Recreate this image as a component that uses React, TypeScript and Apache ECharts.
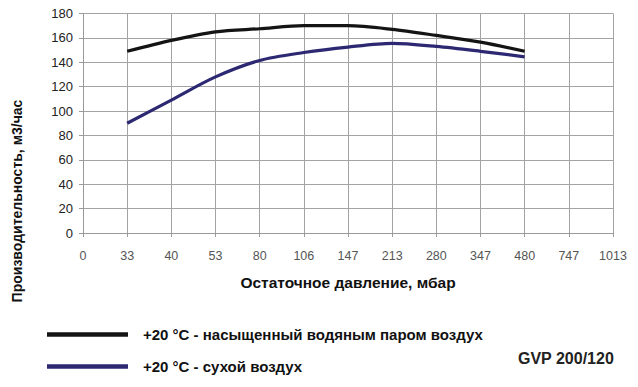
import React, { useEffect, useRef } from "react";
import * as echarts from "echarts";

const categories = ["0", "33", "40", "53", "80", "106", "147", "213", "280", "347", "480", "747", "1013"];
const saturatedAir = [null, 149, 158, 165, 167.5, 170, 170, 167, 162, 156.5, 149, null, null];
const dryAir = [null, 90, 109, 128, 141.5, 148, 152.5, 155.5, 153, 149, 144.5, null, null];
const yTicks = { min: 0, max: 180, interval: 20 };
const seriesNames = ["+20 °C - насыщенный водяным паром воздух", "+20 °C - сухой воздух"];

const FONT = "'Liberation Sans', Arial, sans-serif";

export default function App() {
  const ref = useRef<HTMLDivElement>(null);
  useEffect(() => {
    if (!ref.current) return;
    const chart = echarts.init(ref.current, null, { renderer: "svg" });
    chart.setOption({
      animation: false,
      backgroundColor: "#ffffff",
      grid: { left: 83, right: 25, top: 13.5, bottom: 154, containLabel: false },
      xAxis: {
        type: "category",
        data: categories,
        boundaryGap: false,
        name: "Остаточное давление, мбар",
        nameLocation: "middle",
        nameGap: 41,
        nameTextStyle: { fontFamily: FONT, fontSize: 15.5, fontWeight: "bold", color: "#111" },
        axisLine: { lineStyle: { color: "#9a9a9a", width: 1 } },
        axisTick: { show: true, length: 4, lineStyle: { color: "#9a9a9a" } },
        splitLine: { show: true, lineStyle: { color: "#a3a3a3", width: 1 } },
        axisLabel: { margin: 16, fontFamily: FONT, fontSize: 12.5, color: "#555" },
      },
      yAxis: {
        type: "value",
        min: yTicks.min,
        max: yTicks.max,
        interval: yTicks.interval,
        axisLine: { show: true, lineStyle: { color: "#9a9a9a", width: 1 } },
        axisTick: { show: true, length: 4, lineStyle: { color: "#9a9a9a" } },
        splitLine: { show: true, lineStyle: { color: "#a3a3a3", width: 1 } },
        axisLabel: { margin: 10, fontFamily: FONT, fontSize: 13, color: "#222" },
      },
      legend: {
        orient: "vertical",
        left: 42,
        top: 321,
        icon: "rect",
        itemWidth: 81,
        itemHeight: 4.5,
        itemGap: 15,
        data: seriesNames,
        selectedMode: false,
        textStyle: { fontFamily: FONT, fontSize: 15, fontWeight: "bold", color: "#111", lineHeight: 17, padding: [0, 0, 0, 10] },
      },
      series: [
        {
          name: seriesNames[0],
          type: "line",
          data: saturatedAir,
          smooth: 0.3,
          symbol: "none",
          lineStyle: { color: "#141414", width: 3.2 },
          itemStyle: { color: "#141414" },
        },
        {
          name: seriesNames[1],
          type: "line",
          data: dryAir,
          smooth: 0.3,
          symbol: "none",
          lineStyle: { color: "#2c2872", width: 3.2 },
          itemStyle: { color: "#2c2872" },
        },
      ],
      graphic: [
        {
          type: "text",
          x: 17,
          y: 201,
          rotation: Math.PI / 2,
          style: {
            text: "Производительность, м3/час",
            fontFamily: FONT,
            fontSize: 14,
            fontWeight: "bold",
            fill: "#111",
            align: "center",
            verticalAlign: "middle",
          },
        },
        {
          type: "text",
          x: 518,
          y: 358,
          style: {
            text: "GVP 200/120",
            fontFamily: FONT,
            fontSize: 16,
            fontWeight: "bold",
            fill: "#222",
            align: "left",
            verticalAlign: "middle",
          },
        },
      ],
    });
    return () => chart.dispose();
  }, []);
  return <div ref={ref} style={{ width: 638, height: 387, position: "absolute", left: 0, top: 0 }} />;
}
